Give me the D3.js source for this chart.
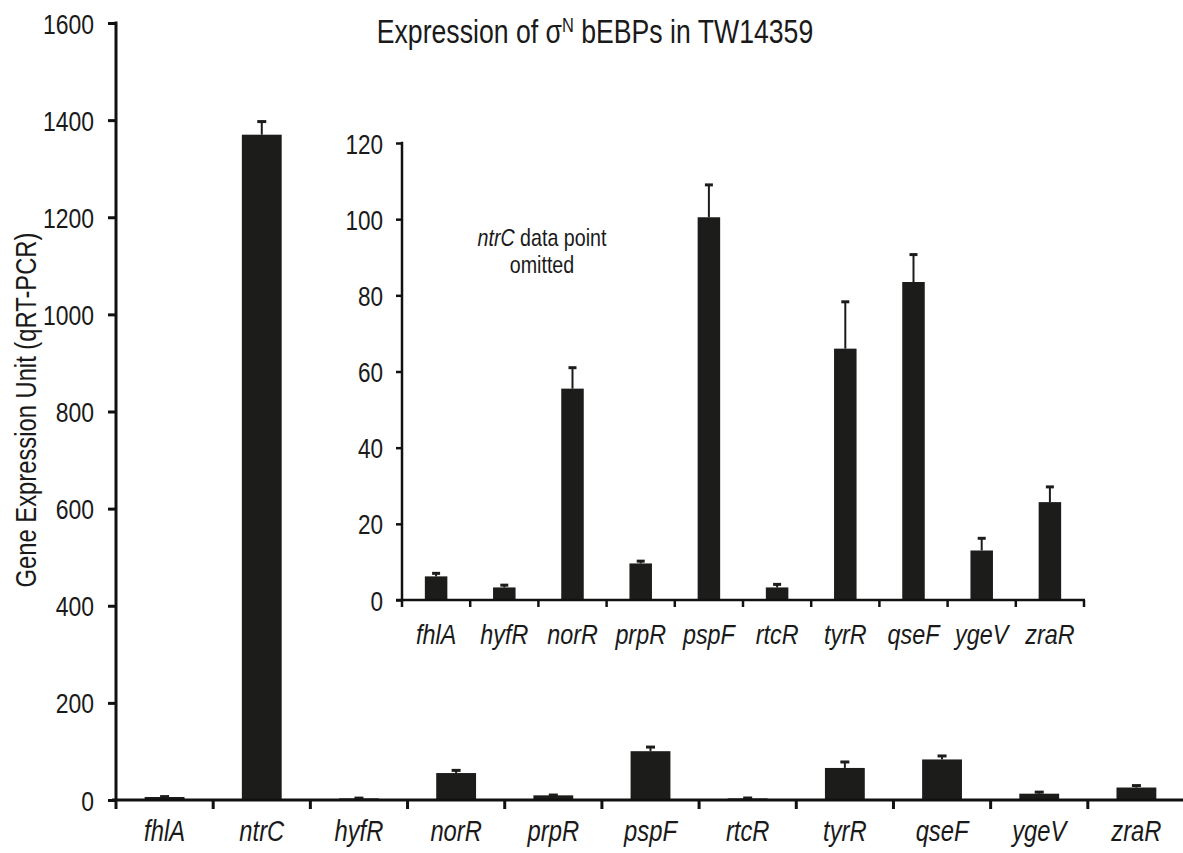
<!DOCTYPE html>
<html><head><meta charset="utf-8">
<script src="https://cdn.jsdelivr.net/npm/d3@7"></script>
<style>
body{margin:0;background:#fff;}
svg{display:block;}
</style></head>
<body>
<svg id="c" width="1183" height="853"></svg>
<script>
const mainCategories = ["fhlA","ntrC","hyfR","norR","prpR","pspF","rtcR","tyrR","qseF","ygeV","zraR"];
const mainValues     = [6.2, 1370, 3.3, 55.5, 9.6, 100.5, 3.3, 66, 83.5, 13, 25.7];
const mainErrors     = [0.8, 27, 0.6, 5.5, 0.6, 8.5, 0.8, 12.3, 7.2, 3.2, 4];
const mainTicks      = [0,200,400,600,800,1000,1200,1400,1600];

const insetCategories = ["fhlA","hyfR","norR","prpR","pspF","rtcR","tyrR","qseF","ygeV","zraR"];
const insetValues     = [6.2, 3.3, 55.5, 9.6, 100.5, 3.3, 66, 83.5, 13, 25.7];
const insetErrors     = [0.8, 0.6, 5.5, 0.6, 8.5, 0.8, 12.3, 7.2, 3.2, 4];
const insetTicks      = [0,20,40,60,80,100,120];

const BAR = "#1c1c1a", INK = "#1a1a1a", AX = "#111";

// detect a narrow font; otherwise squeeze the regular one
const cv = document.createElement("canvas").getContext("2d");
cv.font = "40px 'Liberation Sans'"; const wReg = cv.measureText("1600 Expression").width;
cv.font = "40px 'Liberation Sans Narrow', 'Liberation Sans'"; const wNar = cv.measureText("1600 Expression").width;
const hasNarrow = wNar / wReg < 0.9;
const FAMILY = hasNarrow ? "'Liberation Sans Narrow', 'Liberation Sans', Arial, sans-serif" : "'Liberation Sans', Arial, sans-serif";
const SX = hasNarrow ? 1 : 0.82;

function txt(parent, x, y, size, anchor) {
  return parent.append("text")
    .attr("transform", `translate(${x},${y}) scale(${SX},1)`)
    .attr("font-family", FAMILY).attr("font-size", size)
    .attr("text-anchor", anchor || "middle").attr("fill", INK);
}

const svg = d3.select("#c");

// ---------- main chart ----------
const mx = d3.scaleBand().domain(mainCategories).range([116, 1185]).padding(0);
const my = d3.scaleLinear().domain([0,1600]).range([800, 23]);
const mbw = mx.bandwidth()*0.41;
const main = svg.append("g");
main.selectAll("rect.bar").data(mainCategories).join("rect")
  .attr("x", d => mx(d) + (mx.bandwidth()-mbw)/2)
  .attr("y", (d,i) => my(mainValues[i]))
  .attr("width", mbw)
  .attr("height", (d,i) => my(0) - my(mainValues[i]))
  .attr("fill", BAR);
main.selectAll("line.err").data(mainCategories).join("line")
  .attr("x1", d => mx(d)+mx.bandwidth()/2).attr("x2", d => mx(d)+mx.bandwidth()/2)
  .attr("y1", (d,i) => my(mainValues[i])).attr("y2", (d,i) => my(mainValues[i]+mainErrors[i]))
  .attr("stroke", BAR).attr("stroke-width", 2);
main.selectAll("line.cap").data(mainCategories).join("line")
  .attr("x1", d => mx(d)+mx.bandwidth()/2-4.5).attr("x2", d => mx(d)+mx.bandwidth()/2+4.5)
  .attr("y1", (d,i) => my(mainValues[i]+mainErrors[i])).attr("y2", (d,i) => my(mainValues[i]+mainErrors[i]))
  .attr("stroke", BAR).attr("stroke-width", 3);

const myAxis = d3.axisLeft(my).tickValues(mainTicks).tickFormat(d3.format("d")).tickSize(8).tickSizeOuter(0);
const gmy = main.append("g").attr("transform","translate(116,0)").call(myAxis);
gmy.select(".domain").remove();
gmy.selectAll(".tick line").attr("stroke",AX).attr("stroke-width",3);
gmy.selectAll(".tick text")
  .attr("x",0).attr("dy",null)
  .attr("transform",`translate(-22,10) scale(${SX},1)`)
  .attr("font-family",FAMILY).attr("font-size",28).attr("fill",INK);
main.append("line").attr("x1",116).attr("x2",116).attr("y1",my(1600)-1.5).attr("y2",my(0)+9)
  .attr("stroke",AX).attr("stroke-width",3);
main.append("line").attr("x1",112).attr("x2",1183).attr("y1",my(0)).attr("y2",my(0))
  .attr("stroke",AX).attr("stroke-width",3);
main.selectAll("line.xt").data(mainCategories.slice(1)).join("line")
  .attr("x1", d=>mx(d)).attr("x2", d=>mx(d)).attr("y1", my(0)).attr("y2", my(0)+9)
  .attr("stroke",AX).attr("stroke-width",3);
mainCategories.forEach(c => {
  txt(main, mx(c)+mx.bandwidth()/2, 841, 29).attr("font-style","italic").text(c);
});

svg.append("text").attr("transform",`translate(36,410) rotate(-90) scale(${SX},1)`)
  .attr("font-family",FAMILY).attr("text-anchor","middle").attr("font-size",29).attr("fill",INK)
  .text("Gene Expression Unit (qRT-PCR)");

const title = txt(svg, 595, 43, 32.5);
title.append("tspan").text("Expression of σ");
title.append("tspan").attr("font-size",20).attr("dy",-11).text("N");
title.append("tspan").attr("dy",11).text(" bEBPs in TW14359");

// ---------- inset ----------
const ix = d3.scaleBand().domain(insetCategories).range([402, 1084]).padding(0);
const iy = d3.scaleLinear().domain([0,120]).range([600, 143]);
const ibw = ix.bandwidth()*0.33;
const inset = svg.append("g");
inset.selectAll("rect").data(insetCategories).join("rect")
  .attr("x", d => ix(d) + (ix.bandwidth()-ibw)/2)
  .attr("y", (d,i) => iy(insetValues[i]))
  .attr("width", ibw)
  .attr("height", (d,i) => iy(0) - iy(insetValues[i]))
  .attr("fill", BAR);
inset.selectAll("line.err").data(insetCategories).join("line")
  .attr("x1", d => ix(d)+ix.bandwidth()/2).attr("x2", d => ix(d)+ix.bandwidth()/2)
  .attr("y1", (d,i) => iy(insetValues[i])).attr("y2", (d,i) => iy(insetValues[i]+insetErrors[i]))
  .attr("stroke", BAR).attr("stroke-width", 2);
inset.selectAll("line.cap").data(insetCategories).join("line")
  .attr("x1", d => ix(d)+ix.bandwidth()/2-4).attr("x2", d => ix(d)+ix.bandwidth()/2+4)
  .attr("y1", (d,i) => iy(insetValues[i]+insetErrors[i])).attr("y2", (d,i) => iy(insetValues[i]+insetErrors[i]))
  .attr("stroke", BAR).attr("stroke-width", 3);

const iyAxis = d3.axisLeft(iy).tickValues(insetTicks).tickFormat(d3.format("d")).tickSize(6).tickSizeOuter(0);
const giy = inset.append("g").attr("transform","translate(402,0)").call(iyAxis);
giy.select(".domain").remove();
giy.selectAll(".tick line").attr("stroke",AX).attr("stroke-width",2.5);
giy.selectAll(".tick text")
  .attr("x",0).attr("dy",null)
  .attr("transform",`translate(-19,10) scale(${SX},1)`)
  .attr("font-family",FAMILY).attr("font-size",27.5).attr("fill",INK);
inset.append("line").attr("x1",402).attr("x2",402).attr("y1",iy(120)-1.2).attr("y2",iy(0)+7)
  .attr("stroke",AX).attr("stroke-width",2.5);
inset.append("line").attr("x1",396).attr("x2",1085).attr("y1",iy(0)).attr("y2",iy(0))
  .attr("stroke",AX).attr("stroke-width",2.5);
inset.selectAll("line.xt").data(insetCategories.slice(1).concat(["__end"])).join("line")
  .attr("x1", d=> d==="__end" ? ix.range()[1] : ix(d)).attr("x2", d=> d==="__end" ? ix.range()[1] : ix(d))
  .attr("y1", iy(0)).attr("y2", iy(0)+7)
  .attr("stroke",AX).attr("stroke-width",2.5);
insetCategories.forEach(c => {
  txt(inset, ix(c)+ix.bandwidth()/2, 644, 28.5).attr("font-style","italic").text(c);
});

const note = txt(svg, 542, 246, 24);
note.append("tspan").attr("font-style","italic").text("ntrC");
note.append("tspan").text(" data point");
txt(svg, 542, 273, 24).text("omitted");
</script>
</body></html>
